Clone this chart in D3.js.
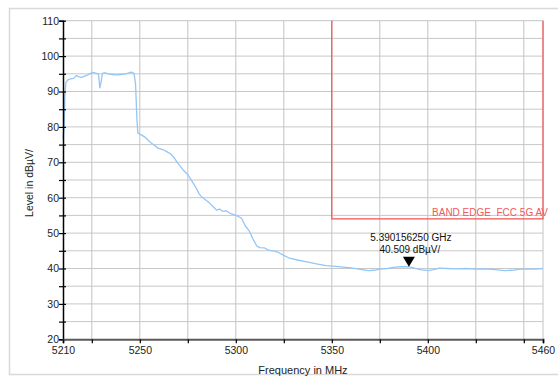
<!DOCTYPE html>
<html>
<head>
<meta charset="utf-8">
<script src="https://cdn.jsdelivr.net/npm/d3@7"></script>
<style>
  html, body { margin: 0; padding: 0; background: #fff; }
  svg { display: block; font-family: "Liberation Sans", Arial, sans-serif; }
</style>
</head>
<body>
<svg id="chart" width="558" height="376"></svg>
<script>
// Measured trace: frequency (MHz) and level (dBµV)
const freqMHz = [
  5210.0, 5210.6, 5211.0, 5211.5, 5212.5, 5214.0, 5215.5, 5217.0, 5218.0, 5219.5,
  5221.0, 5222.5, 5224.0, 5225.5, 5227.0, 5228.5, 5229.2, 5229.8, 5230.5, 5232.0,
  5234.0, 5236.0, 5238.0, 5240.0, 5242.0, 5244.0, 5245.5, 5247.0, 5247.8, 5248.5,
  5249.0, 5250.5, 5252.5, 5255.0, 5257.0, 5259.5, 5262.0, 5264.0, 5266.0, 5268.0,
  5269.5, 5271.0, 5273.0, 5275.0, 5277.0, 5279.0, 5281.0, 5282.5, 5284.5, 5286.5,
  5288.5, 5290.0, 5291.5, 5293.0, 5295.0, 5297.0, 5299.0, 5301.0, 5303.0, 5305.0,
  5307.0, 5309.0, 5311.0, 5312.5, 5315.0, 5317.0, 5319.5, 5322.0, 5325.0, 5328.0,
  5332.0, 5337.0, 5342.0, 5347.0, 5352.0, 5356.0, 5360.0, 5364.0, 5369.0, 5372.0,
  5375.0, 5379.0, 5383.0, 5386.0, 5390.15625, 5393.0, 5396.0, 5400.0, 5403.0, 5406.0,
  5410.0, 5415.0, 5420.0, 5425.0, 5430.0, 5435.0, 5440.0, 5444.0, 5448.0, 5452.0,
  5456.0, 5460.0
];
const levelDb = [
  76.8, 80.0, 89.0, 92.5, 93.3, 93.6, 93.7, 94.5, 94.2, 94.0,
  94.3, 94.6, 95.0, 95.4, 95.2, 94.9, 91.0, 92.5, 95.1, 95.3,
  94.9, 94.8, 94.7, 94.8, 94.9, 95.2, 95.5, 95.1, 92.0, 82.0,
  78.3, 77.8, 77.2, 75.9, 75.0, 74.0, 73.6, 73.0, 72.4, 71.2,
  70.0, 68.9, 67.6, 66.5, 64.8, 63.1, 61.0, 60.1, 59.3, 58.4,
  57.3, 56.5, 56.8, 56.2, 56.3, 55.6, 55.2, 54.8, 54.2, 52.0,
  50.6, 48.3, 46.3, 45.9, 45.8, 45.2, 45.0, 44.6, 43.7, 42.9,
  42.4, 41.9, 41.3, 40.8, 40.6, 40.4, 40.2, 39.8, 39.4, 39.5,
  39.8, 40.0, 40.4, 40.5, 40.509, 40.1, 39.7, 39.4, 39.7, 40.1,
  40.0, 39.9, 40.0, 39.8, 39.9, 39.7, 39.4, 39.5, 39.8, 39.8,
  39.8, 40.0
];

// Axis ticks
const xTickLabels = [5210, 5250, 5300, 5350, 5400, 5460];
const xGridTicks = [5225, 5250, 5275, 5300, 5325, 5350, 5375, 5400, 5425, 5450];
const yTickLabels = [20, 30, 40, 50, 60, 70, 80, 90, 100, 110];
const yGridTicks = [25, 30, 35, 40, 45, 50, 55, 60, 65, 70, 75, 80, 85, 90, 95, 100, 105];

// Limit line and marker
const limitName = ["BAND EDGE  FCC 5G AV"];
const limitStartMHz = [5350];
const limitEndMHz = [5460];
const limitLevel = [54];
const markerFreqMHz = [5390.15625];
const markerLevel = [40.509];
const markerText = ["5.390156250 GHz", "40.509 dBµV/"];

const svg = d3.select("#chart");
const plotLeft = 63, plotRight = 543, plotTop = 20.7, plotBottom = 339.3;

const x = d3.scaleLinear().domain([5210, 5460]).range([plotLeft, plotRight]);
const y = d3.scaleLinear().domain([20, 110]).range([plotBottom, plotTop]);

// Outer frame
svg.append("rect")
  .attr("x", 9.5).attr("y", 8.5).attr("width", 600).attr("height", 366)
  .attr("fill", "#fff").attr("stroke", "#d9d9d9").attr("stroke-width", 1.5);

// Grid
svg.append("g").selectAll("line").data(yGridTicks).join("line")
  .attr("x1", plotLeft).attr("x2", plotRight)
  .attr("y1", d => y(d)).attr("y2", d => y(d))
  .attr("stroke", "#c8c8c8").attr("stroke-width", 1);
svg.append("g").selectAll("line").data(xGridTicks).join("line")
  .attr("x1", d => x(d)).attr("x2", d => x(d))
  .attr("y1", plotTop).attr("y2", plotBottom)
  .attr("stroke", "#c4c4c4").attr("stroke-width", 1);

// Plot border (top, right)
svg.append("line").attr("x1", plotLeft).attr("x2", plotRight).attr("y1", plotTop).attr("y2", plotTop)
  .attr("stroke", "#c4c4c4").attr("stroke-width", 1);
svg.append("line").attr("x1", plotRight).attr("x2", plotRight).attr("y1", plotTop).attr("y2", plotBottom)
  .attr("stroke", "#c4c4c4").attr("stroke-width", 1);

// Limit line
const lim = svg.append("g").attr("fill", "none").attr("stroke", "#f05252").attr("stroke-width", 1.2);
lim.append("path").attr("d", d3.line()([
  [x(limitStartMHz[0]), y(110)],
  [x(limitStartMHz[0]), y(limitLevel[0])],
  [x(limitEndMHz[0]), y(limitLevel[0])],
  [x(limitEndMHz[0]), y(110)]
]));
svg.append("text")
  .attr("x", 548).attr("y", y(limitLevel[0]) - 3)
  .attr("text-anchor", "end").attr("font-size", 10).attr("fill", "#f05a5a")
  .style("white-space", "pre")
  .text(limitName[0]);

// Trace
const trace = freqMHz.map((f, i) => [f, levelDb[i]]);
svg.append("path").datum(trace)
  .attr("fill", "none").attr("stroke", "#94c6f6").attr("stroke-width", 1.3)
  .attr("stroke-linejoin", "round")
  .attr("d", d3.line().x(d => x(d[0])).y(d => y(d[1])));

// Left axis
const yAxis = d3.axisLeft(y).tickValues(yGridTicks.concat([20, 110])).tickSize(4)
  .tickFormat(d => yTickLabels.includes(d) ? d : "");
const gy = svg.append("g").attr("transform", `translate(${plotLeft},0)`).call(yAxis);
gy.select(".domain").attr("stroke", "#000").attr("stroke-width", 1.5);
gy.selectAll(".tick line").attr("stroke", "#000").attr("x1", 3).attr("stroke-width", 1.2);
gy.selectAll(".tick text").attr("font-size", 10.5).attr("fill", "#222")
  .attr("font-family", "Liberation Sans, Arial, sans-serif").attr("x", -4);

// Bottom axis
const xAxis = d3.axisBottom(x).tickValues(xGridTicks.concat([5210, 5460])).tickSize(4)
  .tickFormat(d => xTickLabels.includes(d) ? d : "");
const gx = svg.append("g").attr("transform", `translate(0,${plotBottom})`).call(xAxis);
gx.select(".domain").attr("stroke", "#5a5a5a").attr("stroke-width", 2);
gx.selectAll(".tick line").attr("stroke", "#000").attr("stroke-width", 1.2);
gx.selectAll(".tick text").attr("font-size", 10.5).attr("fill", "#222")
  .attr("font-family", "Liberation Sans, Arial, sans-serif").attr("y", 7);

// Axis titles
svg.append("text")
  .attr("transform", `translate(33,183) rotate(-90)`)
  .attr("text-anchor", "middle").attr("font-size", 10.5).attr("fill", "#222")
  .text("Level in dBµV/");
svg.append("text")
  .attr("x", (plotLeft + plotRight) / 2).attr("y", 374)
  .attr("text-anchor", "middle").attr("font-size", 11).attr("fill", "#222")
  .text("Frequency in MHz");

// Marker
const mx = x(markerFreqMHz[0]), my = y(markerLevel[0]);
svg.append("path")
  .attr("d", d3.line()([[mx - 6, my - 10], [mx + 6, my - 10], [mx, my]]) + "Z")
  .attr("fill", "#000");
svg.append("text")
  .attr("x", mx + 2).attr("y", my - 26)
  .attr("text-anchor", "middle").attr("font-size", 10).attr("fill", "#111")
  .text(markerText[0]);
svg.append("text")
  .attr("x", mx + 1).attr("y", my - 14)
  .attr("text-anchor", "middle").attr("font-size", 10).attr("fill", "#111")
  .text(markerText[1]);
</script>
</body>
</html>
